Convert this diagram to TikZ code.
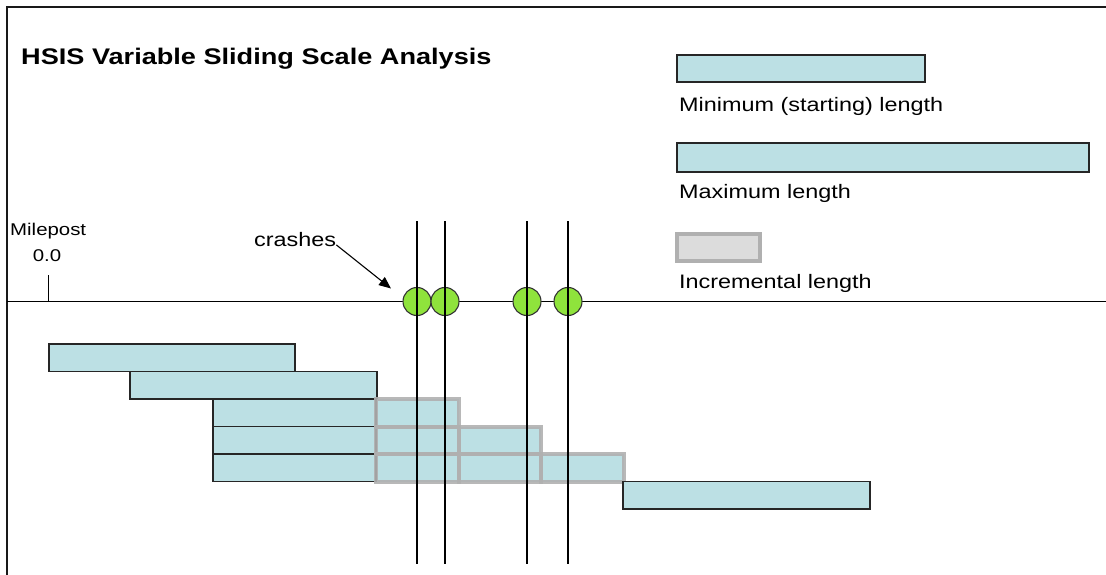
\documentclass[tikz,border=0pt]{standalone}
\usepackage{fontspec}
\setmainfont{Liberation Sans}[FakeStretch=1.2]
\usetikzlibrary{arrows.meta}

\definecolor{barblue}{HTML}{BCE0E4}
\definecolor{incgrey}{HTML}{B0B0B0}
\definecolor{incfill}{HTML}{DCDCDC}
\definecolor{crashgreen}{HTML}{8FE33C}

\tikzset{
  frameline/.style={draw=black!90, line width=2pt},
  axisline/.style={draw=black, line width=1.8pt},
  lenbar/.style={fill=barblue, draw=black!85, line width=1.4pt},
  barfill/.style={fill=barblue},
  incbox/.style={draw=incgrey, line width=4pt, draw opacity=0.9},
  incsample/.style={fill=incfill, draw=incgrey, line width=4pt},
  crash/.style={circle, fill=crashgreen, draw=black!80, line width=1.1pt,
    minimum size=28pt, inner sep=0pt},
  crashline/.style={draw=black, line width=1.6pt},
  title/.style={font=\fontsize{22.6}{26}\selectfont\bfseries, anchor=base west, inner sep=0pt},
  legendtext/.style={font=\fontsize{19.5}{23}\selectfont, anchor=base west, inner sep=0pt},
  smalltext/.style={font=\fontsize{17}{20}\selectfont, inner sep=0pt},
  pointer/.style={draw=black, line width=1.1pt, -{Triangle[length=12pt,width=10pt]}}
}

\begin{document}
\begin{tikzpicture}[x=1pt, y=-1pt]
\useasboundingbox (0,0) rectangle (1106,575);

% frame along the top and left edges
\draw[frameline] (1106,7) -- (7,7) -- (7,575);

% title
\node[title] (title) at (21,65) {HSIS Variable Sliding Scale Analysis};

% legend
\draw[lenbar] (677,55) rectangle (925,82);
\node[legendtext] (minlbl) at (679,111.5) {Minimum (starting) length};
\draw[lenbar] (677,143) rectangle (1089,172);
\node[legendtext] (maxlbl) at (679,198) {Maximum length};
\draw[incsample] (677,234) rectangle (760,261);
\node[legendtext] (inclbl) at (679,288) {Incremental length};

% road axis with milepost tick
\draw[axisline] (7,301.5) -- (1106,301.5);
\draw[axisline] (48.5,275) -- (48.5,301.5);
\node[smalltext, anchor=base west] (mp) at (10,235) {Milepost};
\node[smalltext, anchor=base] (mpzero) at (47,261) {0.0};

% sliding windows: fixed parts
\draw[lenbar] (49,344) rectangle (295,371.5);
\draw[lenbar] (130,371.5) rectangle (377,399);
\fill[barfill] (376,399) rectangle (459,426.5);
\fill[barfill] (376,426.5) rectangle (541,454);
\fill[barfill] (376,454) rectangle (624,481.5);
\draw[lenbar] (213,399) rectangle (376,426.5);
\draw[lenbar] (213,426.5) rectangle (376,454);
\draw[lenbar] (213,454) rectangle (376,481.5);

% sliding windows: added increments
\draw[incbox] (376,399) rectangle (459,426.5);
\draw[incbox] (376,426.5) rectangle (459,454);
\draw[incbox] (459,426.5) rectangle (541,454);
\draw[incbox] (376,454) rectangle (459,481.5);
\draw[incbox] (459,454) rectangle (541,481.5);
\draw[incbox] (541,454) rectangle (624,481.5);

\draw[lenbar] (623,481.5) rectangle (870,509);

% crash locations
\node[crash] (c1) at (417,301.5) {};
\node[crash] (c2) at (445,301.5) {};
\node[crash] (c3) at (527,301.5) {};
\node[crash] (c4) at (568,301.5) {};
\foreach \n/\x in {1/417, 2/445, 3/527, 4/568} {
  \coordinate (top\n) at (\x,221);
  \coordinate (bot\n) at (\x,564);
  \draw[crashline] (top\n) -- (bot\n);
}

% crash label and pointer
\node[legendtext] (crashes) at (254,246.5) {crashes};
\coordinate (tip) at (391,288.5);
\draw[pointer] (crashes.south east) ++(0,-2) -- (tip);
\end{tikzpicture}
\end{document}
